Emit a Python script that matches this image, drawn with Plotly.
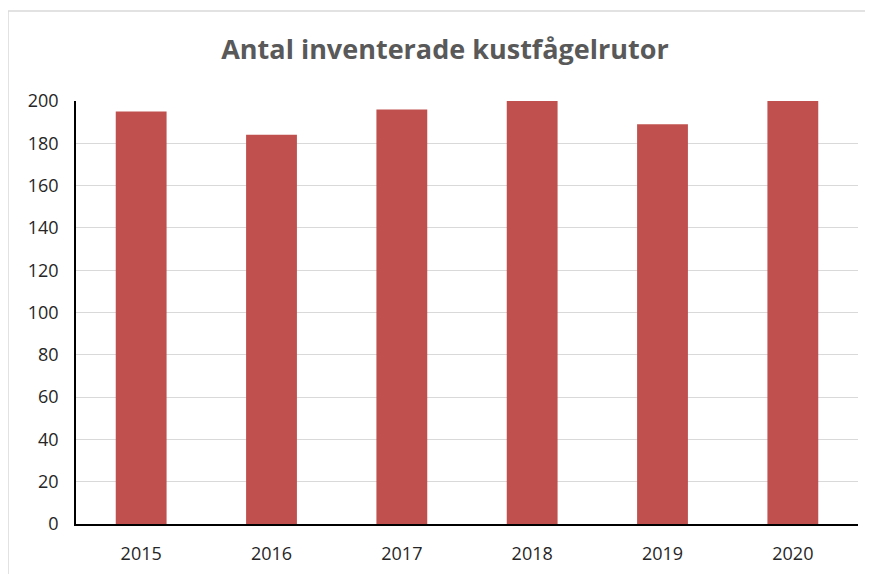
import plotly.graph_objects as go

years = ["2015", "2016", "2017", "2018", "2019", "2020"]
counts = [195, 184, 196, 200, 189, 200]
y_ticks = [0, 20, 40, 60, 80, 100, 120, 140, 160, 180, 200]
title_text = "Antal inventerade kustfågelrutor"

# page body has an 8px offset; margins compensate
L, T, R, B = 68, 93, 23, 58
W, H = 873, 574
pw, ph = W - L - R, H - T - B

fig = go.Figure(go.Bar(x=years, y=counts, marker=dict(color="#C0504D", line=dict(width=0))))

fig.update_layout(
    width=W, height=H,
    margin=dict(l=L, r=R, t=T, b=B),
    paper_bgcolor="white", plot_bgcolor="white",
    bargap=0.61,
    showlegend=False,
    title=dict(text=f"<b>{title_text}</b>", x=437 / W, xref="container", xanchor="center",
               y=1 - 42 / H, yref="container", yanchor="middle",
               font=dict(family="Open Sans", size=27, color="#595959")),
    font=dict(family="Open Sans", size=18, color="#262626"),
)
fig.update_xaxes(showline=True, linecolor="black", linewidth=1.5, ticks="", showgrid=False,
                 ticklabelstandoff=13, tickfont=dict(size=18, color="#262626"))
fig.update_yaxes(range=[0, 200], tickvals=y_ticks, showline=True, linecolor="black", linewidth=1.5,
                 showgrid=True, gridcolor="#D9D9D9", gridwidth=1, zeroline=False, ticks="",
                 ticklabelstandoff=12, tickfont=dict(size=18, color="#262626"))
fig.add_shape(type="rect", xref="paper", yref="paper",
              x0=(0 - L) / pw, x1=(W + 10 - L) / pw, y0=-(ph + 20 + B) / ph + 1 - 1, y1=(T - 3) / ph + 1,
              line=dict(color="#D9D9D9", width=1.5), fillcolor="rgba(0,0,0,0)", layer="below")
fig.write_html("out.html")
